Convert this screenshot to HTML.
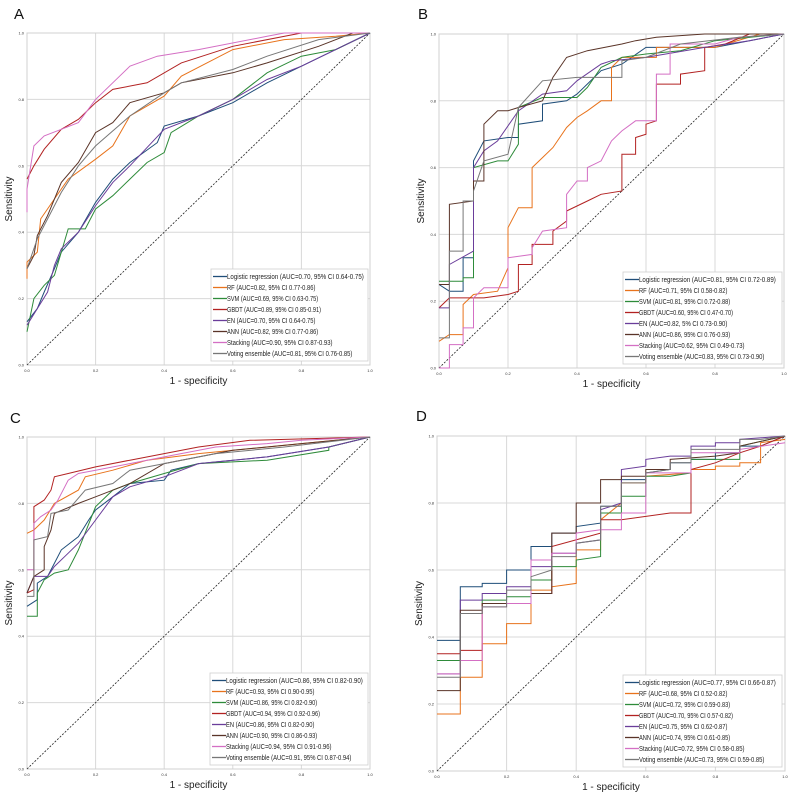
<!DOCTYPE html>
<html><head><meta charset="utf-8"><style>
html,body{margin:0;padding:0;background:#fff;}
svg{display:block;font-family:"Liberation Sans",sans-serif;}
</style></head><body>
<svg id="chart" width="800" height="800" viewBox="0 0 800 800"></svg>
<script>
const seriesNames = ["Logistic regression","RF","SVM","GBDT","EN","ANN","Stacking","Voting ensemble"];
const ticks = [0,0.2,0.4,0.6,0.8,1.0];
const tickLabels = ["0.0","0.2","0.4","0.6","0.8","1.0"];
const panelLetters = ["A","B","C","D"];
const A_auc = ["AUC=0.70, 95% CI 0.64-0.75","AUC=0.82, 95% CI 0.77-0.86","AUC=0.69, 95% CI 0.63-0.75","AUC=0.89, 95% CI 0.85-0.91","AUC=0.70, 95% CI 0.64-0.75","AUC=0.82, 95% CI 0.77-0.86","AUC=0.90, 95% CI 0.87-0.93","AUC=0.81, 95% CI 0.76-0.85"];
const B_auc = ["AUC=0.81, 95% CI 0.72-0.89","AUC=0.71, 95% CI 0.58-0.82","AUC=0.81, 95% CI 0.72-0.88","AUC=0.60, 95% CI 0.47-0.70","AUC=0.82,  5% CI 0.73-0.90","AUC=0.86, 95% CI 0.76-0.93","AUC=0.62, 95% CI 0.49-0.73","AUC=0.83, 95% CI 0.73-0.90"];
const C_auc = ["AUC=0.86, 95% CI 0.82-0.90","AUC=0.93, 95% CI 0.90-0.95","AUC=0.86, 95% CI 0.82-0.90","AUC=0.94, 95% CI 0.92-0.96","AUC=0.86, 95% CI 0.82-0.90","AUC=0.90, 95% CI 0.86-0.93","AUC=0.94, 95% CI 0.91-0.96","AUC=0.91, 95% CI 0.87-0.94"];
const D_auc = ["AUC=0.77, 95% CI 0.66-0.87","AUC=0.68, 95% CI 0.52-0.82","AUC=0.72, 95% CI 0.59-0.83","AUC=0.70, 95% CI 0.57-0.82","AUC=0.75, 95% CI 0.62-0.87","AUC=0.74, 95% CI 0.61-0.85","AUC=0.72, 95% CI 0.58-0.85","AUC=0.73, 95% CI 0.59-0.85"];

const A_LR=[[0,0.13],[0.03,0.17],[0.05,0.22],[0.08,0.29],[0.1,0.34],[0.15,0.4],[0.2,0.49],[0.25,0.56],[0.3,0.61],[0.38,0.67],[0.4,0.72],[0.5,0.75],[0.6,0.79],[0.7,0.85],[0.8,0.9],[0.9,0.95],[1,1]];
const A_RF=[[0,0.26],[0,0.31],[0.03,0.34],[0.04,0.44],[0.08,0.5],[0.12,0.56],[0.2,0.62],[0.25,0.66],[0.3,0.75],[0.4,0.81],[0.45,0.87],[0.6,0.95],[0.75,0.98],[0.9,0.99],[1,1]];
const A_SVM=[[0,0.1],[0.02,0.2],[0.05,0.24],[0.08,0.27],[0.12,0.41],[0.17,0.41],[0.2,0.47],[0.25,0.51],[0.3,0.56],[0.35,0.61],[0.4,0.64],[0.42,0.7],[0.5,0.75],[0.6,0.8],[0.7,0.88],[0.8,0.93],[0.9,0.95],[1,1]];
const A_GBDT=[[0,0.56],[0.02,0.6],[0.05,0.65],[0.1,0.71],[0.15,0.74],[0.2,0.79],[0.25,0.83],[0.35,0.85],[0.45,0.91],[0.6,0.96],[0.8,1],[1,1]];
const A_EN=[[0,0.12],[0.03,0.17],[0.06,0.22],[0.08,0.3],[0.1,0.35],[0.15,0.4],[0.2,0.48],[0.25,0.55],[0.3,0.6],[0.4,0.71],[0.5,0.75],[0.6,0.8],[0.7,0.86],[0.8,0.9],[0.9,0.95],[1,1]];
const A_ANN=[[0,0.29],[0.02,0.33],[0.03,0.39],[0.06,0.45],[0.1,0.55],[0.15,0.61],[0.2,0.7],[0.25,0.73],[0.3,0.79],[0.4,0.82],[0.45,0.85],[0.6,0.88],[0.7,0.91],[0.85,0.96],[0.95,1],[1,1]];
const A_Stack=[[0,0.46],[0,0.53],[0.02,0.66],[0.05,0.69],[0.1,0.71],[0.15,0.73],[0.2,0.8],[0.27,0.87],[0.3,0.9],[0.38,0.93],[0.5,0.95],[0.7,0.99],[0.75,1],[1,1]];
const A_Vote=[[0,0.29],[0.03,0.38],[0.06,0.44],[0.1,0.52],[0.15,0.6],[0.2,0.66],[0.3,0.75],[0.4,0.82],[0.45,0.85],[0.6,0.89],[0.7,0.93],[0.85,0.98],[1,1]];
const B_LR=[[0,0.25],[0.03,0.23],[0.07,0.23],[0.07,0.33],[0.1,0.33],[0.1,0.62],[0.13,0.68],[0.2,0.69],[0.23,0.69],[0.23,0.73],[0.3,0.74],[0.3,0.79],[0.37,0.8],[0.4,0.82],[0.47,0.89],[0.53,0.91],[0.6,0.96],[0.8,0.96],[0.9,0.98],[1,1]];
const B_RF=[[0,0.08],[0.03,0.1],[0.07,0.1],[0.07,0.19],[0.1,0.22],[0.17,0.23],[0.2,0.3],[0.2,0.42],[0.23,0.48],[0.27,0.48],[0.27,0.6],[0.3,0.63],[0.33,0.66],[0.37,0.72],[0.4,0.75],[0.43,0.77],[0.47,0.8],[0.5,0.8],[0.5,0.9],[0.53,0.93],[0.63,0.93],[0.63,0.96],[0.8,0.96],[0.93,1],[1,1]];
const B_SVM=[[0,0.26],[0.07,0.26],[0.07,0.27],[0.1,0.27],[0.1,0.6],[0.17,0.62],[0.2,0.62],[0.23,0.67],[0.23,0.78],[0.3,0.81],[0.4,0.81],[0.43,0.84],[0.47,0.9],[0.53,0.93],[0.6,0.94],[0.7,0.95],[0.8,0.98],[1,1]];
const B_GBDT=[[0,0.18],[0.03,0.21],[0.13,0.21],[0.2,0.22],[0.23,0.23],[0.23,0.31],[0.27,0.31],[0.27,0.37],[0.33,0.37],[0.33,0.41],[0.37,0.44],[0.37,0.47],[0.43,0.5],[0.47,0.52],[0.53,0.53],[0.53,0.64],[0.57,0.64],[0.57,0.69],[0.6,0.7],[0.6,0.73],[0.63,0.74],[0.63,0.85],[0.7,0.85],[0.7,0.88],[0.77,0.89],[0.77,0.96],[0.83,0.97],[0.9,1],[1,1]];
const B_EN=[[0,0.18],[0.03,0.18],[0.03,0.31],[0.1,0.35],[0.1,0.6],[0.13,0.65],[0.17,0.68],[0.23,0.77],[0.3,0.82],[0.37,0.83],[0.4,0.86],[0.47,0.91],[0.5,0.92],[0.6,0.93],[0.77,0.96],[0.9,0.98],[1,1]];
const B_ANN=[[0,0.25],[0.03,0.25],[0.03,0.49],[0.1,0.5],[0.1,0.56],[0.13,0.56],[0.13,0.73],[0.17,0.77],[0.2,0.77],[0.23,0.78],[0.3,0.8],[0.33,0.87],[0.37,0.93],[0.43,0.95],[0.53,0.97],[0.57,0.98],[0.63,0.99],[0.77,1],[1,1]];
const B_Stack=[[0,0],[0.03,0],[0.03,0.07],[0.07,0.07],[0.07,0.12],[0.1,0.12],[0.1,0.21],[0.13,0.24],[0.2,0.24],[0.2,0.33],[0.27,0.34],[0.27,0.36],[0.3,0.41],[0.37,0.42],[0.37,0.52],[0.4,0.56],[0.43,0.56],[0.43,0.6],[0.47,0.62],[0.5,0.68],[0.53,0.71],[0.57,0.74],[0.63,0.74],[0.63,0.88],[0.67,0.88],[0.67,0.97],[0.8,0.97],[0.87,0.99],[1,1]];
const B_Vote=[[0,0.09],[0.03,0.09],[0.03,0.35],[0.07,0.35],[0.07,0.5],[0.1,0.5],[0.1,0.53],[0.13,0.62],[0.2,0.64],[0.23,0.78],[0.3,0.86],[0.4,0.87],[0.53,0.87],[0.53,0.92],[0.6,0.93],[0.7,0.97],[0.87,0.99],[1,1]];
const C_LR=[[0,0.49],[0.03,0.51],[0.03,0.56],[0.06,0.58],[0.1,0.66],[0.15,0.7],[0.18,0.75],[0.2,0.78],[0.25,0.82],[0.3,0.86],[0.4,0.87],[0.42,0.9],[0.5,0.92],[0.7,0.94],[0.88,0.97],[1,1]];
const C_RF=[[0,0.71],[0.02,0.72],[0.05,0.75],[0.08,0.8],[0.15,0.84],[0.17,0.88],[0.25,0.9],[0.35,0.93],[0.5,0.95],[0.7,0.97],[0.9,0.99],[1,1]];
const C_SVM=[[0,0.46],[0.03,0.46],[0.03,0.53],[0.05,0.57],[0.08,0.59],[0.12,0.6],[0.15,0.66],[0.2,0.79],[0.25,0.84],[0.3,0.86],[0.4,0.89],[0.5,0.92],[0.7,0.93],[0.88,0.96],[0.88,0.97],[1,1]];
const C_GBDT=[[0,0.53],[0.02,0.54],[0.02,0.79],[0.05,0.81],[0.07,0.84],[0.08,0.88],[0.12,0.89],[0.2,0.91],[0.3,0.93],[0.4,0.95],[0.5,0.97],[0.65,0.99],[1,1]];
const C_EN=[[0,0.53],[0.02,0.58],[0.06,0.58],[0.08,0.61],[0.12,0.65],[0.15,0.68],[0.2,0.75],[0.25,0.82],[0.3,0.85],[0.4,0.88],[0.5,0.92],[0.7,0.94],[0.88,0.97],[1,1]];
const C_ANN=[[0,0.53],[0.02,0.58],[0.05,0.6],[0.05,0.67],[0.07,0.72],[0.08,0.77],[0.15,0.8],[0.2,0.82],[0.3,0.86],[0.4,0.92],[0.45,0.93],[0.6,0.96],[0.8,0.98],[1,1]];
const C_Stack=[[0,0.6],[0.02,0.6],[0.02,0.74],[0.04,0.76],[0.07,0.78],[0.09,0.81],[0.12,0.87],[0.15,0.89],[0.2,0.9],[0.3,0.92],[0.4,0.94],[0.55,0.97],[0.7,0.98],[0.8,0.99],[1,1]];
const C_Vote=[[0,0.52],[0.02,0.52],[0.02,0.69],[0.06,0.7],[0.07,0.77],[0.12,0.78],[0.17,0.84],[0.25,0.86],[0.3,0.9],[0.4,0.92],[0.55,0.95],[0.75,0.97],[1,1]];
const D_LR=[[0,0.39],[0.067,0.39],[0.067,0.55],[0.13,0.55],[0.13,0.56],[0.2,0.56],[0.2,0.6],[0.27,0.6],[0.27,0.67],[0.33,0.67],[0.33,0.71],[0.4,0.71],[0.4,0.73],[0.47,0.74],[0.47,0.79],[0.53,0.79],[0.53,0.87],[0.6,0.87],[0.6,0.89],[0.67,0.9],[0.67,0.92],[0.73,0.92],[0.73,0.93],[0.8,0.93],[0.8,0.95],[0.87,0.95],[0.87,0.97],[0.93,0.97],[1,1]];
const D_RF=[[0,0.17],[0.067,0.17],[0.067,0.28],[0.13,0.28],[0.13,0.38],[0.2,0.38],[0.2,0.44],[0.27,0.44],[0.27,0.54],[0.33,0.54],[0.33,0.55],[0.4,0.56],[0.4,0.66],[0.47,0.66],[0.47,0.75],[0.53,0.8],[0.53,0.86],[0.6,0.86],[0.6,0.88],[0.73,0.89],[0.73,0.9],[0.8,0.9],[0.8,0.91],[0.87,0.91],[0.87,0.92],[0.93,0.92],[0.93,0.98],[1,0.99]];
const D_SVM=[[0,0.33],[0.067,0.33],[0.067,0.47],[0.13,0.47],[0.13,0.51],[0.2,0.51],[0.2,0.52],[0.27,0.52],[0.27,0.57],[0.33,0.57],[0.33,0.61],[0.4,0.61],[0.4,0.63],[0.47,0.64],[0.47,0.77],[0.53,0.77],[0.53,0.82],[0.6,0.82],[0.6,0.88],[0.67,0.88],[0.73,0.89],[0.73,0.93],[0.87,0.93],[0.87,0.97],[1,1]];
const D_GBDT=[[0,0.35],[0.067,0.35],[0.067,0.36],[0.13,0.36],[0.13,0.5],[0.27,0.5],[0.27,0.53],[0.33,0.53],[0.33,0.67],[0.47,0.71],[0.47,0.75],[0.53,0.75],[0.67,0.77],[0.73,0.77],[0.73,0.9],[0.8,0.92],[0.87,0.95],[0.93,0.97],[1,1]];
const D_EN=[[0,0.29],[0.067,0.29],[0.067,0.51],[0.13,0.51],[0.13,0.53],[0.2,0.53],[0.2,0.55],[0.27,0.55],[0.27,0.61],[0.33,0.61],[0.33,0.65],[0.4,0.65],[0.4,0.68],[0.47,0.69],[0.47,0.78],[0.53,0.8],[0.53,0.9],[0.6,0.91],[0.6,0.93],[0.67,0.94],[0.73,0.94],[0.73,0.97],[0.8,0.97],[0.8,0.98],[0.87,0.98],[0.87,0.99],[1,1]];
const D_ANN=[[0,0.24],[0.067,0.24],[0.067,0.48],[0.13,0.48],[0.13,0.5],[0.27,0.5],[0.27,0.53],[0.33,0.53],[0.33,0.71],[0.4,0.71],[0.4,0.8],[0.47,0.8],[0.47,0.87],[0.53,0.87],[0.53,0.88],[0.6,0.88],[0.6,0.9],[0.67,0.9],[0.67,0.93],[0.8,0.94],[0.87,0.95],[0.87,0.97],[1,1]];
const D_Stack=[[0,0.29],[0.067,0.29],[0.067,0.33],[0.13,0.33],[0.13,0.49],[0.2,0.49],[0.2,0.5],[0.27,0.5],[0.27,0.63],[0.33,0.63],[0.33,0.65],[0.4,0.65],[0.4,0.71],[0.47,0.72],[0.53,0.72],[0.53,0.77],[0.6,0.77],[0.6,0.89],[0.73,0.89],[0.73,0.95],[0.87,0.95],[0.87,0.96],[1,0.98]];
const D_Vote=[[0,0.28],[0.067,0.28],[0.067,0.47],[0.13,0.47],[0.13,0.49],[0.2,0.49],[0.2,0.54],[0.27,0.54],[0.27,0.58],[0.33,0.6],[0.33,0.64],[0.4,0.64],[0.4,0.68],[0.47,0.69],[0.47,0.79],[0.53,0.79],[0.53,0.86],[0.6,0.86],[0.6,0.89],[0.67,0.9],[0.67,0.92],[0.73,0.92],[0.73,0.96],[0.87,0.96],[0.87,0.99],[0.93,0.99],[1,1]];

const colors=["#1f4e79","#e8731c","#2e8b3a","#b22222","#6a3d9a","#5a3428","#d46fc4","#777777"];
const panels=[
 {x0:27,x1:370,y0:33,y1:365,lx:211,ly:269,lw:157,series:[A_LR,A_RF,A_SVM,A_GBDT,A_EN,A_ANN,A_Stack,A_Vote],auc:A_auc,letterX:14,letterY:19},
 {x0:439,x1:784,y0:34,y1:368,lx:623,ly:272,lw:159,series:[B_LR,B_RF,B_SVM,B_GBDT,B_EN,B_ANN,B_Stack,B_Vote],auc:B_auc,letterX:418,letterY:19},
 {x0:27,x1:370,y0:437,y1:769,lx:210,ly:673,lw:158,series:[C_LR,C_RF,C_SVM,C_GBDT,C_EN,C_ANN,C_Stack,C_Vote],auc:C_auc,letterX:10,letterY:423},
 {x0:437,x1:785,y0:436,y1:771,lx:623,ly:675,lw:159,series:[D_LR,D_RF,D_SVM,D_GBDT,D_EN,D_ANN,D_Stack,D_Vote],auc:D_auc,letterX:416,letterY:421}
];
const NS="http://www.w3.org/2000/svg";
const svg=document.getElementById('chart');
function mk(tag,attrs,parent){const e=document.createElementNS(NS,tag);for(const k in attrs)e.setAttribute(k,attrs[k]);(parent||svg).appendChild(e);return e;}
panels.forEach((p,pi)=>{
  const g=mk('g',{});
  
  
  const sx=v=>p.x0+v*(p.x1-p.x0);
  const sy=v=>p.y1-v*(p.y1-p.y0);
  const letter=mk('text',{x:p.letterX,y:p.letterY,'font-size':15,fill:'#111'},g);
  letter.textContent=panelLetters[pi];
  
  
  ticks.forEach((t,i)=>{
    const gx=mk('line',{x1:sx(t),x2:sx(t),y1:p.y0,y2:p.y1,stroke:'#d8d8d8','stroke-width':1},g);
    
    
    const gy=mk('line',{x1:p.x0,x2:p.x1,y1:sy(t),y2:sy(t),stroke:'#d8d8d8','stroke-width':1},g);
    
    
    const xl=mk('text',{x:sx(t),y:p.y1+7,'font-size':4,'text-anchor':'middle',fill:'#333'},g);
    xl.textContent=tickLabels[i];
    
    
    const yl=mk('text',{x:p.x0-3,y:sy(t)+1.5,'font-size':4,'text-anchor':'end',fill:'#333'},g);
    yl.textContent=tickLabels[i];
    
    
  });
  const frame=mk('rect',{x:p.x0,y:p.y0,width:p.x1-p.x0,height:p.y1-p.y0,fill:'none',stroke:'#d0d0d0','stroke-width':1},g);
  
  
  const diag=mk('line',{x1:sx(0),y1:sy(0),x2:sx(1),y2:sy(1),stroke:'#222','stroke-width':0.8,'stroke-dasharray':'2,1.5'},g);
  
  
  p.series.forEach((s,si)=>{
    const pl=mk('polyline',{points:s.map(d=>sx(d[0]).toFixed(1)+','+sy(d[1]).toFixed(1)).join(' '),fill:'none',stroke:colors[si],'stroke-width':1},g);
    
    
  });
  const xt=mk('text',{x:(p.x0+p.x1)/2,y:p.y1+19,'font-size':10,'text-anchor':'middle',fill:'#222'},g);
  xt.textContent='1 - specificity';
  
  
  const yx=p.x0-15, yy=(p.y0+p.y1)/2;
  const yt=mk('text',{x:yx,y:yy,'font-size':10,'text-anchor':'middle',fill:'#222',transform:'rotate(-90 '+yx+' '+yy+')'},g);
  yt.textContent='Sensitivity';
  
  
  const lg=mk('g',{},g);
  
  
  const lb=mk('rect',{x:p.lx,y:p.ly,width:p.lw,height:92,fill:'#fff',stroke:'#cfcfcf','stroke-width':0.8},lg);
  
  
  seriesNames.forEach((n,si)=>{
    const yy2=p.ly+7.5+si*11;
    const ll=mk('line',{x1:p.lx+2,x2:p.lx+16,y1:yy2,y2:yy2,stroke:colors[si],'stroke-width':1.3},lg);
    
    
    const label=n+' ('+p.auc[si]+')';
    const lt=mk('text',{x:p.lx+16,y:yy2+2.5,'font-size':7,fill:'#222',textLength:(label.length*2.85).toFixed(1),lengthAdjust:'spacingAndGlyphs'},lg);
    lt.textContent=label;
    
    
  });
});
</script>
</body></html>
